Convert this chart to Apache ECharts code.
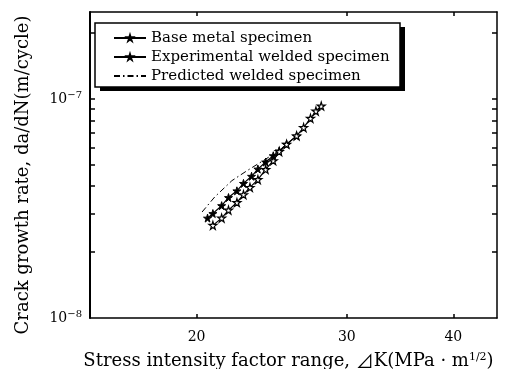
<!DOCTYPE html>
<html>
<head>
<meta charset="utf-8">
<script src="https://cdn.jsdelivr.net/npm/echarts@6/dist/echarts.min.js"></script>
<style>
  html, body {margin: 0; padding: 0; background: #fff;}
  #chart {width: 519px; height: 369px;}
</style>
</head>
<body>
<div id="chart"></div>
<script>
// ΔK (MPa·m^1/2) vs da/dN (m/cycle)
const baseDK = [20.9, 21.4, 21.8, 22.3, 22.7, 23.1, 23.6, 24.1, 24.6, 25.0, 25.5, 26.2, 26.7, 27.2, 27.6, 28.0]
const baseRate = [2.65e-8, 2.86e-8, 3.11e-8, 3.37e-8, 3.66e-8, 3.95e-8, 4.29e-8, 4.77e-8, 5.23e-8, 5.76e-8, 6.22e-8, 6.79e-8, 7.41e-8, 8.17e-8, 8.82e-8, 9.30e-8]

const weldDK = [20.6, 20.9, 21.4, 21.8, 22.3, 22.7, 23.2, 23.6, 24.1, 24.6, 25.0, 25.5, 26.2]
const weldRate = [2.86e-8, 3.00e-8, 3.26e-8, 3.55e-8, 3.81e-8, 4.12e-8, 4.44e-8, 4.79e-8, 5.16e-8, 5.51e-8, 5.80e-8, 6.22e-8, 6.79e-8]

const predDK = [20.3, 21.0, 22.0, 22.9, 24.1, 24.8, 25.5]
const predRate = [3.05e-8, 3.57e-8, 4.24e-8, 4.70e-8, 5.32e-8, 5.71e-8, 6.22e-8]

const seriesNames = ['Base metal specimen', 'Experimental welded specimen', 'Predicted welded specimen']

const xTicks = [20, 30, 40]
const yLabelTicks = [1e-8, 1e-7]
const yMinorTicks = [2e-8, 3e-8, 4e-8, 5e-8, 6e-8, 7e-8, 8e-8, 9e-8, 1e-7, 2e-7]

const pairs = (xs, ys) => xs.map((x, i) => [x, ys[i]])

const star = 'path://M50,0 L61,35 L98,35 L68,57 L79,91 L50,70 L21,91 L32,57 L2,35 L39,35 Z'
const serif = 'DejaVu Serif'

const myChart = echarts.init(document.getElementById('chart'), null, {renderer: 'canvas'})

const xAxisBase = {
  type: 'log',
  min: 15,
  max: 45,
  splitLine: {show: false},
  minorTick: {show: false},
  axisLine: {lineStyle: {color: '#000', width: 1.5}},
  axisTick: {inside: true, length: 4, customValues: xTicks, lineStyle: {color: '#000', width: 1.5}},
}

const yAxisBase = {
  type: 'log',
  min: 1e-8,
  max: 2.5e-7,
  splitLine: {show: false},
  minorTick: {show: false},
  axisLine: {lineStyle: {color: '#000', width: 1.5}},
  axisTick: {inside: true, length: 5, customValues: yMinorTicks, lineStyle: {color: '#000', width: 1.5}},
}

myChart.setOption({
  animation: false,
  textStyle: {fontFamily: serif, color: '#000'},
  grid: {left: 90, right: 22, top: 12, bottom: 51, containLabel: false, outerBoundsMode: 'none'},
  // legend frame with its offset drop shadow
  graphic: [
    {type: 'rect', z: 0, shape: {x: 100, y: 27, width: 305, height: 64}, style: {fill: '#000'}},
    {type: 'rect', z: 1, shape: {x: 95, y: 23, width: 305, height: 64}, style: {fill: '#fff', stroke: '#000', lineWidth: 1.5}}
  ],
  legend: {
    orient: 'vertical',
    left: 95,
    top: 23,
    z: 10,
    padding: [6, 10, 2, 18],
    itemGap: 1,
    itemWidth: 32,
    itemHeight: 7,
    textStyle: {fontFamily: serif, fontSize: 15, lineHeight: 18, color: '#000'},
    data: [
      seriesNames[0],
      seriesNames[1],
      {name: seriesNames[2], itemStyle: {color: 'rgba(0,0,0,0)', borderColor: 'rgba(0,0,0,0)'}}
    ]
  },
  xAxis: [
    {
      ...xAxisBase,
      position: 'bottom',
      axisLabel: {customValues: xTicks, margin: 12, fontSize: 14, color: '#000', fontFamily: serif},
      name: '{t|Stress intensity factor range, }{d|⊿}{t|K(MPa · m}{s|1/2}{t|)}',
      nameLocation: 'middle',
      nameGap: 34,
      nameTextStyle: {
        padding: [0, 10, 0, 0],
        rich: {
          t: {fontFamily: serif, fontSize: 18, color: '#000'},
          d: {fontFamily: 'Noto Sans CJK JP', fontSize: 18, color: '#000'},
          s: {fontFamily: serif, fontSize: 11, color: '#000', verticalAlign: 'top', padding: [0, 0, 8, 0]}
        }
      }
    },
    {
      ...xAxisBase,
      position: 'top',
      axisLabel: {show: false}
    }
  ],
  yAxis: [
    {
      ...yAxisBase,
      position: 'left',
      axisLine: {lineStyle: {color: '#000', width: 2}},
      axisLabel: {
        customValues: yLabelTicks,
        margin: 8,
        formatter: v => '{b|10}{s|−' + Math.round(-Math.log10(v)) + '}',
        rich: {
          b: {fontFamily: serif, fontSize: 14, color: '#000'},
          s: {fontFamily: serif, fontSize: 10, color: '#000', verticalAlign: 'top', padding: [0, 0, 8, 0]}
        }
      },
      name: 'Crack growth rate, da/dN(m/cycle)',
      nameLocation: 'middle',
      nameGap: 58,
      nameTextStyle: {fontFamily: serif, fontSize: 18, color: '#000', padding: [0, 20, 0, 0]}
    },
    {
      ...yAxisBase,
      position: 'right',
      axisLabel: {show: false}
    }
  ],
  series: [
    {
      name: seriesNames[0],
      type: 'line',
      data: pairs(baseDK, baseRate),
      symbol: star,
      symbolSize: 8,
      lineStyle: {color: '#000', width: 1.2},
      itemStyle: {color: '#fff', borderColor: '#000', borderWidth: 1.2},
      z: 3
    },
    {
      name: seriesNames[1],
      type: 'line',
      data: pairs(weldDK, weldRate),
      symbol: star,
      symbolSize: 8,
      lineStyle: {color: '#000', width: 1.2},
      itemStyle: {color: '#000', borderColor: '#000', borderWidth: 1},
      z: 2
    },
    {
      name: seriesNames[2],
      type: 'line',
      data: pairs(predDK, predRate),
      symbol: 'none',
      lineStyle: {color: '#000', width: 1, type: [6, 3, 1.5, 3]},
      itemStyle: {color: '#000'},
      z: 1
    }
  ]
})
</script>
</body>
</html>
